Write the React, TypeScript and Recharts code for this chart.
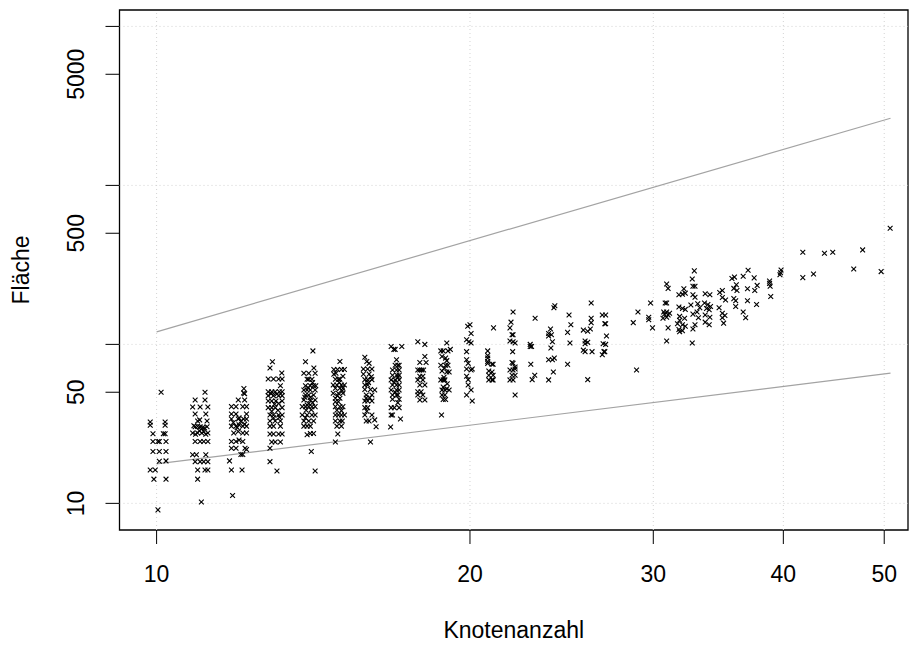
import React from 'react';
import { ScatterChart, Scatter, XAxis, YAxis, ReferenceLine, ReferenceArea, Label } from 'recharts';

// Knotenanzahl (x) / Fläche (y) pairs, grouped by node-count column
const pts10: [number, number][] = [
  [10.1, 50], [9.86, 32.5], [9.86, 31], [10.19, 32.5], [10.19, 31],
  [9.92, 27.4], [10.15, 27.4], [10.19, 27.4],
  [9.92, 24.5], [10.03, 24.5], [10.06, 24.5], [10.21, 24.5],
  [9.92, 21.2], [10.06, 21.2], [10.21, 21.2],
  [10.06, 18.4], [10.21, 18.5],
  [9.86, 16.2], [9.97, 16.2],
  [9.94, 14.2], [10.21, 14.2],
  [10.03, 9.1],
];
const pts11: [number, number][] = [
  [11.13, 50], [10.89, 44.7], [11.13, 44.7],
  [10.83, 40.4], [11.01, 40.4], [11.2, 40.4],
  [10.89, 36.5], [11.15, 36.5],
  [10.95, 33], [11.0, 33.5], [11.18, 33],
  [10.89, 30.3], [10.95, 30.5], [11.01, 30.3], [11.07, 30], [11.18, 30.3], [11.05, 29.5],
  [10.86, 30.8], [11.12, 29.8], [10.99, 28.6], [11.15, 27.2],
  [10.83, 27.7], [10.95, 27.7], [11.05, 27.7], [11.2, 27.7], [11.1, 28.2], [10.9, 27.2],
  [10.89, 24.5], [11.01, 24.5], [11.1, 24.5], [11.2, 24.5],
  [10.83, 20.2], [10.92, 20.2], [11.15, 20.2],
  [10.89, 18.3], [11.01, 18.3], [11.1, 18.3], [11.2, 18.3],
  [10.95, 16.2], [11.13, 16.2], [11.2, 16.2],
  [10.95, 14.2],
  [11.04, 10.2],
];
const pts12: [number, number][] = [
  [12.13, 52.7], [12.12, 49.5], [12.15, 49],
  [11.98, 44.7], [12.15, 44.7],
  [11.8, 40.6], [11.92, 40.6], [12.1, 40.6], [12.2, 40.6],
  [11.8, 36.5], [11.92, 36.5], [12.2, 36.5],
  [11.8, 33.9], [11.98, 33.9], [12.12, 33.9], [12.2, 33.9], [12.0, 34.5],
  [11.85, 32.3], [12.05, 32.8], [12.15, 31.5],
  [11.8, 30.6], [11.92, 30.6], [12.1, 30.6], [12.2, 30.6], [12.0, 31.2], [11.95, 30],
  [11.86, 27.7], [12.1, 27.7], [12.2, 27.7], [11.98, 28.3],
  [11.8, 24.5], [11.92, 24.5], [12.1, 24.5], [12.0, 25],
  [11.8, 22.2], [11.92, 22.2], [12.16, 22.2], [12.2, 21.8],
  [12.05, 20.3], [12.1, 20.3],
  [11.75, 18.5],
  [11.8, 16.2], [12.08, 16.2],
  [11.83, 11.2],
];
const pts13: [number, number][] = [
  [12.92, 77.7], [12.85, 71], [13.19, 66],
  [12.8, 60.6], [12.95, 60.6], [13.1, 60.6], [13.2, 60.6],
  [13.15, 55],
  [12.8, 50.4], [12.9, 50.4], [13.0, 50.4], [13.12, 50.4], [13.2, 50.4],
  [12.88, 49], [13.05, 48.8],
  [12.8, 47.6], [12.95, 47.6], [13.1, 47.6], [13.2, 47.6],
  [12.8, 44], [12.9, 44], [13.02, 44], [13.2, 44],
  [12.98, 42], [13.1, 42.5],
  [12.8, 40], [12.9, 40], [13.0, 40], [13.2, 40],
  [12.9, 38], [13.08, 38.5],
  [12.85, 36], [12.95, 36], [13.1, 36], [13.2, 36],
  [12.95, 34.5], [13.12, 34.8],
  [12.85, 33], [13.0, 33], [13.15, 33],
  [12.85, 30.6], [12.95, 30.6], [13.15, 30.6],
  [12.85, 27.3], [12.95, 27.3], [13.1, 27.3], [13.2, 27.3],
  [12.9, 24.3], [13.0, 24.3], [13.15, 24.3],
  [12.85, 22.2],
  [12.85, 18.3],
  [13.05, 16],
];
const pts14: [number, number][] = [
  [14.13, 91], [13.9, 77.7], [14.16, 71],
  [13.85, 65.8], [14.0, 65.8], [14.2, 65.8],
  [13.95, 60.4], [14.0, 60.4], [14.1, 60.4],
  [14.12, 57.5], [13.98, 53.5],
  [13.9, 55], [14.05, 55], [14.15, 55], [14.22, 55],
  [13.85, 51.7], [13.95, 51.7], [14.05, 51.7], [14.2, 51.7],
  [13.9, 48], [14.0, 48], [14.15, 48],
  [13.88, 46.5], [14.05, 46.3],
  [13.85, 44.7], [14.05, 44.7], [14.2, 44.7],
  [14.0, 42.5], [14.12, 43],
  [13.8, 40.6], [13.9, 40.6], [14.0, 40.6], [14.1, 40.6], [14.2, 40.6], [13.95, 41.5],
  [13.92, 38.5], [14.08, 38.8],
  [13.8, 36], [13.95, 36], [14.1, 36], [14.2, 36],
  [13.9, 34.5],
  [13.85, 33], [14.0, 33], [14.15, 33],
  [13.85, 30.6], [13.95, 30.6], [14.05, 30.6],
  [13.95, 27], [14.05, 27.5], [14.15, 27.5],
  [14.08, 21.2],
  [14.2, 16],
];
const pts15: [number, number][] = [
  [15.0, 78], [14.8, 69.5], [14.92, 69.5], [15.05, 69.5], [15.15, 69.5],
  [14.8, 65], [14.87, 65.8], [15.1, 63],
  [14.85, 60.4], [14.95, 60.4], [15.0, 60.4],
  [14.98, 57.5],
  [14.78, 55.5], [14.9, 55.5], [15.05, 55.5], [15.15, 55.5],
  [14.85, 53], [15.0, 53], [15.1, 53], [15.08, 51],
  [14.78, 49.3], [14.95, 49.3], [15.1, 49.3], [14.92, 47.5],
  [14.85, 45.8], [15.0, 45.8],
  [14.85, 43.6], [14.95, 43.6],
  [14.85, 40.6], [15.0, 40.6], [15.1, 40.6],
  [14.9, 38.5], [15.05, 38.3],
  [14.85, 36], [14.95, 36], [15.05, 36], [15.15, 36],
  [14.85, 33], [15.0, 33], [15.08, 33],
  [14.9, 30.6], [15.05, 30.6],
  [14.93, 27.3],
  [14.85, 24.3],
];
const pts16: [number, number][] = [
  [15.85, 83], [15.92, 78], [16.0, 76],
  [15.8, 70], [15.95, 70], [16.1, 70],
  [15.8, 65], [16.0, 65], [16.08, 62.5],
  [15.85, 60], [15.95, 60], [16.1, 60],
  [15.98, 57.5],
  [15.85, 55.5], [15.95, 55.5],
  [15.85, 52], [16.05, 52], [16.2, 51.7],
  [15.9, 48], [16.1, 48],
  [15.9, 46], [16.02, 46.2],
  [15.85, 44], [15.95, 44], [16.1, 44],
  [15.85, 40], [15.95, 40], [15.92, 38],
  [15.85, 36], [16.1, 36],
  [15.9, 33], [16.0, 33], [16.2, 33.5],
  [16.25, 30.3],
  [16.05, 24.3],
];
const pts17: [number, number][] = [
  [16.8, 97], [16.9, 93], [16.95, 93], [17.2, 97],
  [17.0, 80], [16.95, 74], [17.05, 74], [17.1, 74],
  [16.85, 69], [17.0, 69], [17.1, 69],
  [16.85, 64], [17.02, 64], [17.1, 64], [17.05, 62],
  [16.8, 59.8], [16.95, 59.8], [17.1, 59.8], [16.92, 57.8],
  [16.85, 55.5], [17.0, 55.5], [17.1, 55.5],
  [16.8, 51.7], [17.0, 51.7], [17.1, 51.7], [16.95, 50],
  [16.85, 48], [17.0, 48], [17.05, 48],
  [16.85, 45.2], [17.1, 45.2], [17.05, 43],
  [16.8, 40], [16.92, 40], [17.1, 40],
  [16.8, 36], [16.85, 36],
  [17.15, 33.9],
  [16.78, 30.2],
];
const pts18: [number, number][] = [
  [17.82, 104], [18.1, 100],
  [18.1, 84], [17.9, 77], [18.15, 77],
  [17.82, 69], [17.9, 69], [17.98, 69], [18.05, 69],
  [17.9, 63], [18.02, 63],
  [17.82, 59.8], [18.02, 59.8],
  [17.9, 55.5], [18.1, 55.5],
  [17.82, 50.4], [17.95, 50.4],
  [17.82, 48], [18.02, 48],
  [17.9, 44.7], [18.1, 44.7],
];
const pts19: [number, number][] = [
  [19.0, 102],
  [18.75, 91], [18.85, 91], [19.05, 91], [19.15, 93],
  [18.8, 84], [18.95, 82], [19.0, 79],
  [18.75, 74], [18.95, 74], [19.05, 74], [18.9, 71],
  [18.8, 68], [19.0, 67], [19.1, 67],
  [18.88, 62],
  [18.75, 59.8], [18.85, 59.8], [18.92, 59.8],
  [18.85, 54], [19.0, 52.5], [19.02, 56.5],
  [18.8, 51.7], [18.92, 51.7], [19.1, 51.7],
  [18.8, 48], [18.92, 48],
  [18.85, 45], [18.95, 45],
  [18.78, 36],
];
const pts20: [number, number][] = [
  [19.9, 130], [20.0, 133], [20.05, 117],
  [19.85, 107], [19.95, 104], [20.05, 102],
  [19.85, 90],
  [19.85, 80], [19.92, 76],
  [19.85, 70], [20.05, 69], [20.1, 70],
  [19.85, 63], [19.92, 60],
  [19.92, 55.5], [20.05, 51.7],
  [19.85, 48],
  [20.1, 44],
];
const pts21: [number, number][] = [
  [21.07, 127],
  [20.8, 91], [20.8, 85], [20.8, 82], [20.8, 78], [20.8, 76],
  [21.0, 75], [21.05, 75],
  [20.85, 68], [21.0, 67],
  [20.85, 64], [21.05, 64],
  [20.85, 59.8], [21.0, 59.8], [21.05, 59.8],
];
const pts22: [number, number][] = [
  [22.0, 160], [21.9, 138], [21.85, 127], [21.95, 115], [22.0, 115],
  [21.85, 105], [22.0, 104], [22.1, 102],
  [21.98, 90],
  [21.95, 77], [22.0, 76], [22.1, 72],
  [21.85, 69], [22.0, 69], [22.1, 70],
  [21.95, 64], [22.1, 64],
  [21.85, 59.8], [22.0, 59.8],
  [22.1, 48],
];
const pts23to27: [number, number][] = [
  [23.1, 146], [22.85, 100], [22.85, 97], [22.92, 97], [22.88, 75], [23.08, 64], [22.95, 60],
  [24.13, 175], [24.08, 170], [23.9, 125], [23.8, 117], [23.95, 115], [23.8, 113], [24.0, 104],
  [23.92, 95], [23.8, 80], [24.1, 82], [24.0, 80], [24.05, 67], [23.8, 59.8],
  [24.9, 153], [25.0, 133], [24.82, 119], [24.95, 102], [24.82, 75],
  [26.15, 182], [26.15, 146], [26.15, 137], [25.7, 123], [25.95, 121], [26.1, 125],
  [25.8, 105], [25.95, 103], [25.8, 101], [25.7, 92], [25.8, 90], [26.2, 90], [25.95, 60],
  [26.8, 153], [27.0, 153], [26.95, 135], [27.0, 135], [27.05, 113], [26.85, 101],
  [27.0, 100], [26.9, 90], [26.95, 90], [26.8, 86],
];
const pts29to33: [number, number][] = [
  [28.91, 69], [29.0, 160], [28.7, 137],
  [29.82, 182], [29.7, 148], [29.7, 143], [29.95, 127],
  [30.9, 240], [31.0, 225], [30.8, 182], [30.9, 182], [30.7, 160], [30.9, 160], [31.1, 157],
  [30.75, 155], [31.0, 153], [30.9, 148], [30.65, 146], [31.0, 127], [30.9, 105],
  [32.1, 224], [31.75, 205], [32.0, 207], [32.2, 210], [31.75, 172], [32.0, 168], [32.2, 166],
  [31.8, 150], [32.15, 146], [31.8, 142], [31.65, 135], [32.0, 133], [32.2, 130],
  [31.75, 124], [32.0, 122], [31.8, 120],
  [32.85, 290], [32.7, 258], [32.9, 232], [32.75, 232], [32.75, 205], [32.9, 198],
  [32.6, 177], [33.1, 180], [33.25, 170], [33.05, 160], [32.75, 155], [33.15, 147],
  [32.9, 133], [32.75, 125], [32.7, 102],
];
const pts34to51: [number, number][] = [
  [33.65, 208], [34.0, 205], [33.6, 182], [33.85, 178], [34.05, 173], [33.75, 168],
  [33.95, 165], [33.65, 153], [34.0, 148], [33.65, 138], [33.95, 133],
  [34.95, 218], [34.75, 212], [34.95, 197], [35.2, 190], [34.7, 170], [34.95, 157],
  [35.15, 152], [34.95, 147], [35.05, 136],
  [35.7, 260], [35.9, 265], [36.05, 237], [35.85, 225], [36.1, 218], [35.85, 194],
  [36.0, 188], [36.0, 173],
  [36.6, 268], [37.0, 293], [36.95, 224], [36.95, 188], [37.5, 262], [37.75, 235],
  [37.55, 218], [37.7, 178], [36.6, 160], [36.8, 147],
  [38.8, 250], [38.8, 242], [38.85, 232], [38.9, 200], [39.8, 294], [39.75, 282], [39.7, 274],
  [41.76, 380], [41.76, 263], [42.76, 277], [43.81, 374], [44.62, 380],
  [46.74, 298], [47.67, 393], [49.66, 287], [50.66, 538],
];

const points = [
  ...pts10, ...pts11, ...pts12, ...pts13, ...pts14, ...pts15, ...pts16, ...pts17,
  ...pts18, ...pts19, ...pts20, ...pts21, ...pts22, ...pts23to27, ...pts29to33, ...pts34to51,
].map(([n, a]) => ({ n, a }));

// reference lines (endpoints)
const lineN = [10, 50.7];
const upperArea = [120, 2645];
const lowerArea = [17.7, 65.9];
const upperLine = lineN.map((n, i) => ({ n, a: upperArea[i] }));
const lowerLine = lineN.map((n, i) => ({ n, a: lowerArea[i] }));

const xTicks = [10, 20, 30, 40, 50];
const yTicks = [10, 50, 100, 500, 1000, 5000, 10000];
const yLabeled = [10, 50, 500, 5000];
const xGrid = [10, 20, 30, 40, 50];
const yGrid = [10, 100, 1000, 10000];
const xDomain: [number, number] = [9.212, 52.7];
const yDomain: [number, number] = [6.8, 12685];

const FONT = "'Liberation Sans', Arial, Helvetica, sans-serif";
const FS = 23;

const Cross = (props: any) => {
  const { cx, cy } = props;
  if (cx == null || cy == null) return <g />;
  const r = 2.4;
  return (
    <path
      d={`M${cx - r},${cy - r}L${cx + r},${cy + r}M${cx - r},${cy + r}L${cx + r},${cy - r}`}
      stroke="#000"
      strokeWidth={1.1}
      fill="none"
    />
  );
};

const NoShape = () => <g />;

const XTick = (props: any) => {
  const { x, payload } = props;
  return (
    <text x={x} y={582} textAnchor="middle" fontSize={FS} fontFamily={FONT} fill="#000">
      {payload.value}
    </text>
  );
};

const YTick = (props: any) => {
  const { y, payload } = props;
  if (!yLabeled.includes(payload.value)) return <g />;
  const bx = 84;
  return (
    <text
      x={bx}
      y={y}
      transform={`rotate(-90, ${bx}, ${y})`}
      textAnchor="middle"
      fontSize={FS}
      fontFamily={FONT}
      fill="#000"
    >
      {payload.value}
    </text>
  );
};

export default function App() {
  return (
    <div style={{ position: 'absolute', left: 0, top: 0, background: '#fff' }}>
      <ScatterChart width={910} height={646} margin={{ top: 10, right: 2, bottom: 0, left: 0 }}>
        <XAxis
          dataKey="n"
          type="number"
          scale="log"
          domain={xDomain}
          allowDataOverflow
          ticks={xTicks}
          tick={<XTick />}
          tickSize={14}
          tickLine={{ stroke: '#000' }}
          axisLine={false}
          height={116}
          interval={0}
        >
          <Label
            content={() => (
              <text x={513.75} y={638} textAnchor="middle" fontSize={FS} fontFamily={FONT} fill="#000">
                Knotenanzahl
              </text>
            )}
          />
        </XAxis>
        <YAxis
          dataKey="a"
          type="number"
          scale="log"
          domain={yDomain}
          allowDataOverflow
          ticks={yTicks}
          tick={<YTick />}
          tickSize={14}
          tickLine={{ stroke: '#000' }}
          axisLine={false}
          width={119.5}
          interval={0}
        >
          <Label
            content={() => (
              <text
                x={29}
                y={270}
                transform="rotate(-90, 29, 270)"
                textAnchor="middle"
                fontSize={FS}
                fontFamily={FONT}
                fill="#000"
              >
                Fläche
              </text>
            )}
          />
        </YAxis>
        {xGrid.map((v) => (
          <ReferenceLine key={`gx${v}`} x={v} stroke="#d3d3d3" strokeDasharray="1 3" />
        ))}
        {yGrid.map((v) => (
          <ReferenceLine key={`gy${v}`} y={v} stroke="#d3d3d3" strokeDasharray="1 3" />
        ))}
        <Scatter
          data={upperLine}
          line={{ stroke: '#a3a3a3', strokeWidth: 1.2 }}
          shape={NoShape}
          isAnimationActive={false}
          legendType="none"
        />
        <Scatter
          data={lowerLine}
          line={{ stroke: '#a3a3a3', strokeWidth: 1.2 }}
          shape={NoShape}
          isAnimationActive={false}
          legendType="none"
        />
        <Scatter data={points} shape={Cross} isAnimationActive={false} legendType="none" />
        <ReferenceArea
          x1={xDomain[0]}
          x2={xDomain[1]}
          y1={yDomain[0]}
          y2={yDomain[1]}
          fill="none"
          fillOpacity={0}
          stroke="#000"
          strokeWidth={1.3}
          ifOverflow="visible"
        />
      </ScatterChart>
    </div>
  );
}
